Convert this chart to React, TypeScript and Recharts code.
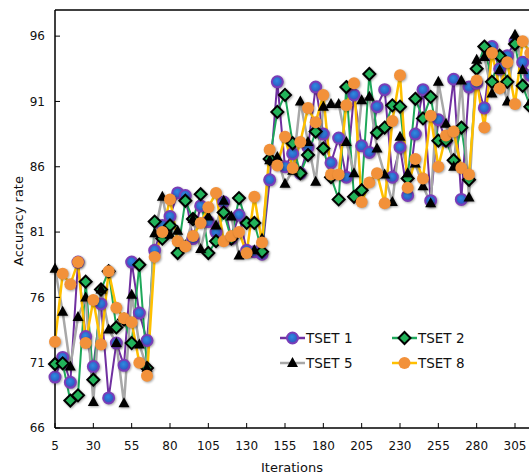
import React from 'react';
import { LineChart, Line, XAxis, YAxis, ReferenceLine, Legend } from 'recharts';

const iterations = [
  5, 10, 15, 20, 25, 30, 35, 40, 45, 50, 55, 60, 65, 70, 75, 80, 85, 90, 95, 100,
  105, 110, 115, 120, 125, 130, 135, 140, 145, 150, 155, 160, 165, 170, 175, 180, 185, 190, 195, 200,
  205, 210, 215, 220, 225, 230, 235, 240, 245, 250, 255, 260, 265, 270, 275, 280, 285, 290, 295, 300,
  305, 310, 315,
];

const tset1 = [
  69.9, 71.4, 69.5, 78.7, 73.0, 70.7, 75.5, 68.3, 72.5, 70.8,
  78.7, 74.8, 72.7, 79.6, 81.5, 82.2, 84.0, 83.8, 80.5, 83.0,
  81.8, 81.0, 83.3, 80.5, 82.3, 79.6, 79.5, 79.3, 85.0, 92.5,
  86.0, 87.0, 85.5, 87.5, 92.1, 88.5, 86.3, 88.2, 85.2, 91.5,
  87.6, 87.1, 90.6, 91.9, 85.2, 87.5, 83.8, 88.5, 91.9, 83.4,
  89.6, 88.0, 92.7, 83.5, 92.1, 92.4, 90.5, 95.2, 93.5, 94.5,
  95.6, 94.0, 93.0,
];

const tset2 = [
  70.9, 70.95, 68.1, 68.5, 77.2, 69.7, 76.6, 78.0, 73.7, 74.3,
  72.5, 78.5, 70.6, 81.8, 80.5, 81.5, 79.4, 83.4, 82.0, 83.9,
  79.4, 80.3, 82.5, 80.5, 83.6, 81.7, 81.7, 79.5, 86.6, 90.2,
  91.5, 87.8, 85.5, 86.9, 88.7, 87.4, 85.2, 83.5, 92.1, 83.7,
  84.2, 93.1, 88.6, 89.0, 90.7, 90.6, 85.1, 91.2, 89.7, 91.35,
  88.0, 88.0, 86.5, 89.0, 85.0, 93.5, 95.2, 92.5, 94.5, 92.5,
  95.4, 92.2, 90.6,
];

const tset5 = [
  78.2, 74.9, 70.7, 74.5, 76.0, 68.0, 76.6, 73.55, 72.5, 67.9,
  76.2, 72.4, 70.6, 80.9, 83.7, 80.8, 81.1, 80.0, 82.0, 79.7,
  82.2, 81.5, 83.4, 82.2, 79.2, 79.4, 79.6, 80.5, 86.5, 86.75,
  84.7, 85.7, 91.0, 87.9, 84.85, 90.6, 90.8, 90.8, 87.9, 85.5,
  91.1, 91.35, 87.4, 85.4, 83.3, 88.3, 85.5, 86.25, 84.5, 83.2,
  92.5, 89.3, 86.0, 92.6, 83.65, 94.2, 94.4, 91.6, 93.4, 91.0,
  96.1, 93.4, 91.0,
];

const tset8 = [
  72.6, 77.8, 77.0, 78.7, 72.5, 75.8, 72.4, 78.0, 75.2, 74.4,
  74.1, 71.0, 70.0, 79.1, 81.0, 83.5, 80.3, 79.9, 80.7, 81.7,
  82.9, 84.0, 80.3, 80.7, 81.0, 79.4, 83.7, 80.2, 87.3, 86.1,
  88.3, 85.9, 87.9, 90.5, 89.4, 91.5, 85.4, 85.4, 90.7, 92.4,
  83.3, 84.8, 85.5, 83.2, 89.5, 93.0, 84.4, 86.6, 85.1, 89.9,
  86.0, 88.4, 88.7, 85.9, 85.4, 92.6, 89.0, 94.7, 92.0, 94.0,
  90.8, 95.6, 94.7,
];

const seriesNames = ['TSET 1', 'TSET 2', 'TSET 5', 'TSET 8'];
const xTicks = [5, 30, 55, 80, 105, 130, 155, 180, 205, 230, 255, 280, 305];
const yTicks = [66, 71, 76, 81, 86, 91, 96];

const data = iterations.map((it, i) => ({
  it,
  t1: tset1[i],
  t2: tset2[i],
  t5: tset5[i],
  t8: tset8[i],
}));

const FONT = '"DejaVu Sans", Verdana, sans-serif';
const SHADOW = 'drop-shadow(1.5px 1.5px 1.2px rgba(0,0,0,0.35))';

const C1_LINE = '#7030A0';
const C2_LINE = '#1EA85A';
const C5_LINE = '#A8A8A8';
const C8_LINE = '#FFC000';

const Circle1 = ({ cx, cy }: { cx: number; cy: number }) => (
  <circle cx={cx} cy={cy} r={5.5} fill="url(#blueFill)" stroke="#7A3DB8" strokeWidth={2} />
);
const Diamond2 = ({ cx, cy }: { cx: number; cy: number }) => (
  <polygon
    points={`${cx},${cy - 6} ${cx + 6},${cy} ${cx},${cy + 6} ${cx - 6},${cy}`}
    fill="#22B35A"
    stroke="#000"
    strokeWidth={2}
  />
);
const Tri5 = ({ cx, cy }: { cx: number; cy: number }) => (
  <polygon points={`${cx},${cy - 6} ${cx + 5.5},${cy + 4} ${cx - 5.5},${cy + 4}`} fill="#000" />
);
const Circle8 = ({ cx, cy }: { cx: number; cy: number }) => (
  <circle cx={cx} cy={cy} r={6} fill="#F2913A" />
);

const makeDot = (Shape: any) => (props: any) => {
  const { cx, cy, index } = props;
  if (cx == null || cy == null) return <g key={`e-${index}`} />;
  return (
    <g key={`d-${index}`} style={{ filter: SHADOW }}>
      <Shape cx={cx} cy={cy} />
    </g>
  );
};

const legendItems = [
  { name: seriesNames[0], color: C1_LINE, Shape: Circle1, col: 0, row: 0 },
  { name: seriesNames[1], color: C2_LINE, Shape: Diamond2, col: 1, row: 0 },
  { name: seriesNames[2], color: C5_LINE, Shape: Tri5, col: 0, row: 1 },
  { name: seriesNames[3], color: C8_LINE, Shape: Circle8, col: 1, row: 1 },
];

const renderLegend = () => (
  <div style={{ position: 'relative', width: 240, height: 46, fontFamily: FONT, fontSize: 13.5, color: '#111' }}>
    {legendItems.map((it) => (
      <div
        key={it.name}
        style={{
          position: 'absolute',
          left: it.col * 112,
          top: it.row * 25,
          height: 20,
          display: 'flex',
          alignItems: 'center',
          whiteSpace: 'nowrap',
        }}
      >
        <svg width={25} height={16} style={{ overflow: 'visible' }}>
          <line x1={0} y1={8} x2={25} y2={8} stroke={it.color} strokeWidth={2.5} />
          <it.Shape cx={12.5} cy={8} />
        </svg>
        <span style={{ marginLeft: 1 }}>{it.name}</span>
      </div>
    ))}
  </div>
);

const YLabel = (props: any) => {
  const x = 18;
  const y = 221;
  return (
    <text
      x={x}
      y={y}
      transform={`rotate(-90, ${x}, ${y})`}
      textAnchor="middle"
      dominantBaseline="central"
      fontFamily={FONT}
      fontSize={13}
      fill="#111"
    >
      Accuracy rate
    </text>
  );
};

const XLabel = (props: any) => (
  <text x={292} y={467} textAnchor="middle" dominantBaseline="central" fontFamily={FONT} fontSize={13} fill="#111">
    Iterations
  </text>
);

export default function App() {
  return (
    <div
      style={{
        position: 'fixed',
        left: 0,
        top: 0,
        width: 529,
        height: 474,
        overflow: 'hidden',
        background: '#fff',
      }}
    >
      <LineChart width={538} height={474} data={data} margin={{ top: 10, right: 0, left: 0, bottom: 0 }}>
        <defs>
          <radialGradient id="blueFill" cx="45%" cy="40%" r="60%">
            <stop offset="0%" stopColor="#2F8BE0" />
            <stop offset="70%" stopColor="#2D62C8" />
            <stop offset="100%" stopColor="#5A3CB0" />
          </radialGradient>
        </defs>
        <XAxis
          dataKey="it"
          type="number"
          domain={[5, 320]}
          ticks={xTicks}
          interval={0}
          height={46}
          axisLine={{ stroke: '#000', strokeWidth: 1.5 }}
          tickLine={{ stroke: '#000', strokeWidth: 1 }}
          tickSize={-5}
          tickMargin={18}
          tick={{ fontFamily: FONT, fontSize: 12, fill: '#111' }}
          label={<XLabel />}
        />
        <YAxis
          type="number"
          domain={[66, 98]}
          ticks={yTicks}
          interval={0}
          width={55}
          axisLine={{ stroke: '#000', strokeWidth: 1.5 }}
          tickLine={{ stroke: '#000', strokeWidth: 1 }}
          tickSize={-5}
          tickMargin={15}
          tick={{ fontFamily: FONT, fontSize: 12, fill: '#111' }}
          label={<YLabel />}
        />
        <ReferenceLine y={98} stroke="#000" strokeWidth={1.5} />
        <Legend
          layout="horizontal"
          verticalAlign="middle"
          align="center"
          content={renderLegend}
          wrapperStyle={{ left: 280, top: 328, width: 240, height: 46 }}
        />
        <Line
          type="linear"
          dataKey="t1"
          name={seriesNames[0]}
          stroke={C1_LINE}
          strokeWidth={2}
          dot={makeDot(Circle1)}
          activeDot={false}
          isAnimationActive={false}
        />
        <Line
          type="linear"
          dataKey="t2"
          name={seriesNames[1]}
          stroke={C2_LINE}
          strokeWidth={2}
          dot={makeDot(Diamond2)}
          activeDot={false}
          isAnimationActive={false}
        />
        <Line
          type="linear"
          dataKey="t5"
          name={seriesNames[2]}
          stroke={C5_LINE}
          strokeWidth={2.5}
          dot={makeDot(Tri5)}
          activeDot={false}
          isAnimationActive={false}
        />
        <Line
          type="linear"
          dataKey="t8"
          name={seriesNames[3]}
          stroke={C8_LINE}
          strokeWidth={2.5}
          dot={makeDot(Circle8)}
          activeDot={false}
          isAnimationActive={false}
        />
      </LineChart>
    </div>
  );
}
